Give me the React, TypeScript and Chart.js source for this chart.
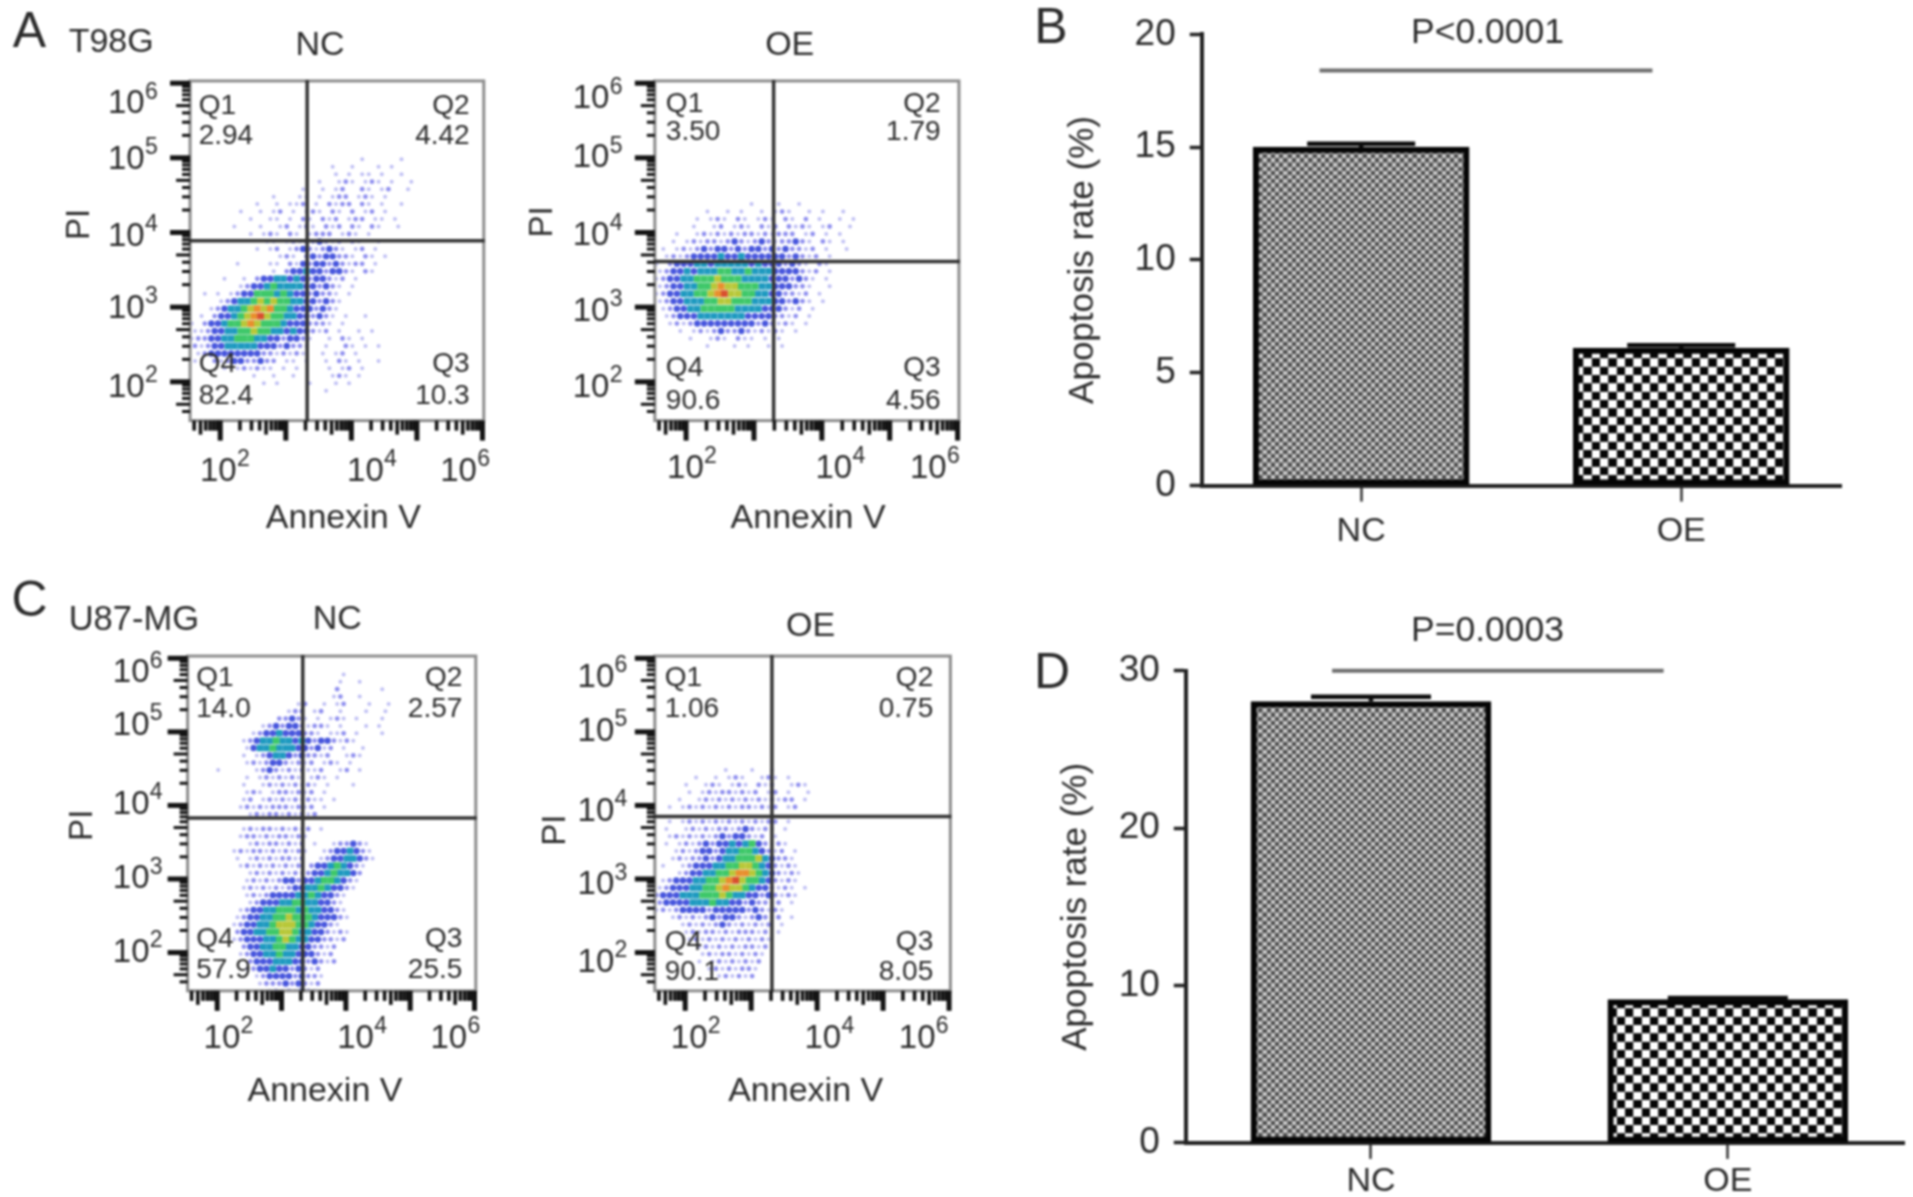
import React, { useEffect, useRef } from "react";
import { Chart, registerables } from "chart.js";

Chart.register(...registerables);

const S = 1913 / 1560;
const FONT = '"Liberation Sans", Arial, sans-serif';
const INK = "#2b2b2b";

// ---- bar data ----
const barCategories = ["NC", "OE"];
const t98gRates = [15.0, 6.1];
const t98gErrors = [0.15, 0.12];
const u87Rates = [28.05, 9.1];
const u87Errors = [0.3, 0.1];
const t98gTicks = [0, 5, 10, 15, 20];
const u87Ticks = [0, 10, 20, 30];

// ---- flow quadrant percentages: Q1, Q2, Q3, Q4 ----
const quadrantNames = ["Q1", "Q2", "Q3", "Q4"];
const t98gNcQuadrants = ["2.94", "4.42", "10.3", "82.4"];
const t98gOeQuadrants = ["3.50", "1.79", "4.56", "90.6"];
const u87NcQuadrants = ["14.0", "2.57", "25.5", "57.9"];
const u87OeQuadrants = ["1.06", "0.75", "8.05", "90.1"];

// gate positions in decades [Annexin V, PI]
const t98gNcGate = [3.326, 3.89];
const t98gOeGate = [3.29, 3.61];
const u87NcGate = [3.33, 3.83];
const u87OeGate = [3.315, 3.85];

// density cells, one char per 0.1 x 0.1 decade cell
// . pale  : light blue  b blue  t teal  g green  y yellow  o orange  r red
const t98gNcRows = [
  "                          .     .   ",
  "                     .  .   . .     ",
  "                      . . .. .  .   ",
  "                   .  .:. .:. .  .  ",
  "                 .  . .:  :. .:  .  ",
  "            .   .. . .:: .:. .      ",
  "          .  . ..: . :.:: :. .  .   ",
  "       .  . .: . .:. :. : .: .      ",
  "         .  .. . :. :.: .:: .. .    ",
  "      .   .  .: .:. :.: :. :.  .    ",
  "         . .:. :. .::: .:. .        ",
  "           .. .:.::b:.: :.  .       ",
  "          . .: .:b:.:b:. .: .       ",
  "             .:. :b:bb::. :. .      ",
  "       .    .. :.b:bb:b:.:: .       ",
  "            . :bbtbb:bb:. :.        ",
  "     .  . :bbttbtb:bb:.: .          ",
  "       .:bbtgttttbb:b:. .           ",
  "  . . .:bbgggtgtbb:b::. .           ",
  "    .:bttgygyggttbb:b:.             ",
  "   .:bttgyoyoggtbbb:b:.             ",
  " . :bbtgyoryggttbb:b:. .  .         ",
  ". :bbtggyoygggtbbb:::. .            ",
  "..:bbttggyggttbtbb:.: .  . .        ",
  ".::bbttgggttbb:bb:.  . :. .         ",
  ":.:bbtttttbbb:b::.  .  :. . .       ",
  " .:bbbbbbbb::.:.:.  . .: .          ",
  ".  :.:bb::b:: .. .  . :. .  .       ",
  "     . .:.:.. . .    . .: .         ",
  "         .  .  .     .:. .          ",
  "           . .    .   . .            ",
  "                    .               ",
];
const t98gOeRows = [
  "              .   .  .           ",
  "       .  . .  . .:.  . .  .     ",
  "      . .:. :. .:. :. : .  . .   ",
  "     .  .: .:. :.: :.:. .:  .    ",
  "   .  .:.:.:.::.:.::: .: . .     ",
  "  . .:.::.:b:.:b:.::b:. :. .     ",
  " . .:.:b:bb:b:bb:b:b::.: .  .    ",
  " .:.:bbbbtbbtbbbbbb:b:.: .       ",
  ". :bbbttbtttttbtbbb:b:. :.       ",
  ".:bbtbtttggttgtttbbbb:.: .       ",
  ".:bbttgggygggttttbbb:b:. .       ",
  ".:bbttggyoyygggttbbb::.  .       ",
  ".:bbttggyoryyggttbb::.: .        ",
  ".:bbtttggyygggtttbb:b:. .        ",
  " .:bbttgggggttttbbb:.: .         ",
  " .:bbbtttttttbbbb::.: .          ",
  "  .:.:bbbbbbbbb:b:.:. .          ",
  "   . .:.:b::b:.:.:. .            ",
  "     .  .:. :.. . .              ",
  "       .   . .  . .               ",
];
const u87NcRows = [
  "                        .           ",
  "                       .  .         ",
  "                       :      .     ",
  "                      .:  .         ",
  "                 .:  . .:   .  .    ",
  "               .:: .:  .   .  .     ",
  "              ::b:. . .:. .   .     ",
  "           .:b:bb:.::. .   . .      ",
  "          .:bbtbbb::. ..: .   .     ",
  "        .:bttgttbtb:bb:.:.          ",
  "         .bttgtttbb:b.: .  .        ",
  "        . .:bttb:b::.:  .:.         ",
  "         .:.:bb:.:.: .:. .          ",
  "    .     .:b:.:.:..:  .: .         ",
  "         . .:.:.:. .:. .            ",
  "        .  .:.:.:.:. .   .          ",
  "         .:. .::.:.: .              ",
  "        .: .:.:.:.:.. .             ",
  "        .:.:.:::.:.: .              ",
  "         .:.::.:.:.:                ",
  "                                    ",
  "        .:.::.:.:.: .               ",
  "        .::.:.::.:.                 ",
  "         .:.::.:.: .  .::b:.        ",
  "       .:.::.:.:.:.  .:bbtb:.       ",
  "       . .:.:.::.:  .:bbttb:.       ",
  "        .:.:.:.:.: :bbtgtb:.        ",
  "         .:.:.:.:.:bbtgttb:         ",
  "         .:.:.:bb:bbtggtb:.         ",
  "        .:.:.:.:bbttgtbb:.          ",
  "         .:.:bbbbttgtbb:.           ",
  "         .:bbbttggttbb:.            ",
  "        .:bbttgggtgttbb:.           ",
  "       .:bbttggygggtbbb:.           ",
  "       .:bbttgyyyggtbb:.            ",
  "       :bbttggyygttbb:.:.           ",
  "       .:bbbttgygttbb::.:           ",
  "        :bbttggttbb::.:             ",
  "        .:bbttgttbbb:.:             ",
  "         :bbbtttbb:b:.:             ",
  "         .:bbtbb:b:.:               ",
  "          .:bbbb:b::.               ",
  "           .:::b:b:.:               ",
  "            .:.:.b:.                ",
];
const t98gFirstRow = 10;
const t98gOeFirstRow = 16;
const u87NcFirstRow = 2;
const u87OeFirstRow = 15;
const u87OeRows = [
  "          .   .  .              ",
  "      .  . .:.  .:. .           ",
  "    .  .:. .:. :.:  .:.         ",
  "     . .:.::.:.: .: .  .        ",
  "   .  .:.:.:.:.:.:.:: .         ",
  "  . .:.:.:.:.::.:.: .:          ",
  "                                ",
  "  . .:.:.:.:.:.:.:: .           ",
  " .  .:.:.::.:b:.:. .            ",
  "  .:.:.:.:b:bb:.: .             ",
  " . .:.:b:bbtbtgb:.:.            ",
  "   .:.:bb:bttggtb:.: .          ",
  "  .:.::b:bttgggytb::.           ",
  " .  .:bbbttggyygtb:.:.          ",
  "   .:bbttggyooygtb:.:.          ",
  " .:bbbttggyoryggtb:.:.          ",
  ".:bbbttggyoyygtbb:.:. .         ",
  ":bbbtttgggygttbb:b:.:.          ",
  ":bbbbtttgttbb:b::.: .           ",
  ".:.:bbbb:bbbbb:b:.:.            ",
  "  .:.:.:b:bb:.:b:.: .           ",
  "    .:.:.:b:.:.:.: .            ",
  "    .:.::.:.:::.: .             ",
  "     .:.:.:.:.:.:.              ",
  "      .:.:.:.::.:               ",
  "       .:.::.:.:.               ",
  "      . .:.:.:.:                ",
  "        .:.:.::.                ",
  "         .:.:.:                 ",
];

const levelChars = ["r", "o", "y", "g", "t", "b", ":", "."];
const levelColors = ["#d8502e", "#e8902e", "#b8c83a", "#3fc86a", "#1f9ac0", "rgba(47,63,216,0.88)", "rgba(95,95,232,0.7)", "rgba(170,170,240,0.75)"];
const levelRadius = [4.8, 4.8, 4.8, 4.8, 4.6, 3.2, 2.4, 2.0];
const levelStyles = ["rect", "rect", "rect", "rect", "rect", "circle", "circle", "circle"];

const xDecMin = 1.54;
const xDecMax = 6.02;
const yDecMin = 1.48;
const yDecMax = 6.03;
const decades = [2, 3, 4, 5, 6];

function densityDatasets(rows: string[], firstRow: number) {
  return levelChars.map((ch, i) => {
    const data: { x: number; y: number }[] = [];
    rows.forEach((row, r) => {
      const stagger = (firstRow + r) % 2 ? 0.05 : 0;
      for (let c = 0; c < row.length; c++) {
        if (row[c] === ch) {
          data.push({
            x: Math.pow(10, xDecMin + (c + 0.25 + stagger * 10) * 0.1),
            y: Math.pow(10, yDecMax - (firstRow + r + 0.5) * 0.1),
          });
        }
      }
    });
    return {
      data,
      backgroundColor: levelColors[i],
      borderWidth: 0,
      pointStyle: levelStyles[i],
      pointRadius: levelRadius[i],
      pointHoverRadius: levelRadius[i],
    };
  });
}

type T = [string, number, number, number, string?, number?];

function drawText(ctx: any, list: T[]) {
  list.forEach(([txt, x, y, size, align, rot]) => {
    ctx.save();
    ctx.fillStyle = INK;
    ctx.font = `${size}px ${FONT}`;
    ctx.textAlign = align || "left";
    ctx.textBaseline = "middle";
    ctx.translate(x * S, y * S);
    if (rot) ctx.rotate(rot);
    ctx.fillText(txt, 0, 0);
    ctx.restore();
  });
}

function drawPower(ctx: any, exp: string, x: number, y: number) {
  ctx.save();
  ctx.fillStyle = INK;
  ctx.textAlign = "left";
  ctx.textBaseline = "middle";
  ctx.font = `33px ${FONT}`;
  ctx.fillText("10", x * S, y * S);
  ctx.font = `23px ${FONT}`;
  ctx.fillText(exp, x * S + 37, y * S - 12);
  ctx.restore();
}

interface FlowSpec {
  box: number[];
  gate: number[];
  rows: string[];
  firstRow: number;
  quadrants: string[];
  yLabelX: number;
  yLabelYs: number[];
  xLabelXs: number[];
  xLabelY: number;
  xTitle: number[];
  piPos: number[];
  qLeft: number;
  qRight: number;
  qYs: number[];
  texts: T[];
}

const flowSpecs: FlowSpec[] = [
  {
    box: [155, 66, 394.5, 343],
    gate: t98gNcGate,
    rows: t98gNcRows,
    firstRow: t98gFirstRow,
    quadrants: t98gNcQuadrants,
    yLabelX: 88,
    yLabelYs: [316, 252, 193, 130, 85],
    xLabelXs: [163, 283, 359],
    xLabelY: 385,
    xTitle: [280, 423],
    piPos: [65, 183],
    qLeft: 162,
    qRight: 383,
    qYs: [87, 111, 297, 323],
    texts: [
      ["A", 24, 27, 50, "center"],
      ["T98G", 56, 35, 34],
      ["NC", 261, 37, 34, "center"],
    ],
  },
  {
    box: [534, 66, 782, 343],
    gate: t98gOeGate,
    rows: t98gOeRows,
    firstRow: t98gOeFirstRow,
    quadrants: t98gOeQuadrants,
    yLabelX: 467,
    yLabelYs: [316, 254, 192, 129, 81],
    xLabelXs: [544, 665, 742],
    xLabelY: 382,
    xTitle: [659, 423],
    piPos: [443, 181],
    qLeft: 543,
    qRight: 767,
    qYs: [85, 108, 300, 327],
    texts: [["OE", 644, 37, 34, "center"]],
  },
  {
    box: [153, 535, 388, 808],
    gate: u87NcGate,
    rows: u87NcRows,
    firstRow: u87NcFirstRow,
    quadrants: u87NcQuadrants,
    yLabelX: 92,
    yLabelYs: [777, 717, 656, 592, 549],
    xLabelXs: [166, 275, 351],
    xLabelY: 847,
    xTitle: [265, 890],
    piPos: [68, 673],
    qLeft: 160,
    qRight: 377,
    qYs: [553, 578, 766, 791],
    texts: [
      ["C", 24, 491, 50, "center"],
      ["U87-MG", 56, 506, 34.5],
      ["NC", 275, 505, 34, "center"],
    ],
  },
  {
    box: [534, 535, 775, 808],
    gate: u87OeGate,
    rows: u87OeRows,
    firstRow: u87OeFirstRow,
    quadrants: u87OeQuadrants,
    yLabelX: 471,
    yLabelYs: [785, 722, 662, 597, 553],
    xLabelXs: [547, 656, 733],
    xLabelY: 847,
    xTitle: [657, 890],
    piPos: [453, 677],
    qLeft: 542,
    qRight: 761,
    qYs: [553, 578, 768, 793],
    texts: [["OE", 661, 511, 34, "center"]],
  },
];

function makeFlow(canvas: HTMLCanvasElement, spec: FlowSpec) {
  const [l, t, r, b] = spec.box.map((v) => v * S);
  const decor = {
    id: "flowDecor",
    afterDatasetsDraw(chart: any) {
      const { ctx, scales } = chart;
      const { x, y } = scales;
      const ca = chart.chartArea;
      ctx.save();
      // frame
      ctx.strokeStyle = "#8c8c8c";
      ctx.lineWidth = 3;
      ctx.strokeRect(ca.left, ca.top, ca.right - ca.left, ca.bottom - ca.top);
      // gates
      ctx.strokeStyle = "#333";
      ctx.lineWidth = 3.5;
      const gx = x.getPixelForValue(Math.pow(10, spec.gate[0]));
      const gy = y.getPixelForValue(Math.pow(10, spec.gate[1]));
      ctx.beginPath();
      ctx.moveTo(gx, ca.top - 1);
      ctx.lineTo(gx, ca.bottom + 1);
      ctx.moveTo(ca.left - 1, gy);
      ctx.lineTo(ca.right + 1, gy);
      ctx.stroke();
      // ticks
      ctx.strokeStyle = "#141414";
      const mant = [1, 2, 3, 4, 5, 6, 7, 8, 9];
      [1, ...decades].forEach((d) => {
        mant.forEach((m) => {
          const v = m * Math.pow(10, d);
          const lg = Math.log10(v);
          if (lg < xDecMin - 0.001 || lg > xDecMax + 0.03) return;
          const px = x.getPixelForValue(v);
          ctx.lineWidth = m === 1 ? 5 : 3.6;
          ctx.beginPath();
          ctx.moveTo(px, ca.bottom);
          ctx.lineTo(px, ca.bottom + (m === 1 ? 20 : m === 5 ? 14 : 10));
          ctx.stroke();
        });
        mant.forEach((m) => {
          const v = m * Math.pow(10, d);
          const lg = Math.log10(v);
          if (lg < yDecMin - 0.001 || lg > yDecMax + 0.03) return;
          const py = y.getPixelForValue(v);
          ctx.lineWidth = m === 1 ? 5 : 3;
          ctx.beginPath();
          ctx.moveTo(ca.left, py);
          ctx.lineTo(ca.left - (m === 1 ? 20 : m === 5 ? 14 : 8), py);
          ctx.stroke();
        });
      });
      ctx.restore();

      // text
      decades.forEach((d, i) => drawPower(ctx, String(d), spec.yLabelX, spec.yLabelYs[i]));
      [2, 4, 6].forEach((d, i) => drawPower(ctx, String(d), spec.xLabelXs[i], spec.xLabelY));
      const [q1, q2, q3, q4] = spec.quadrants;
      const [ya, yb, yc, yd] = spec.qYs;
      const qs = 28;
      drawText(ctx, [
        ...spec.texts,
        ["Annexin V", spec.xTitle[0], spec.xTitle[1], 34, "center"],
        ["PI", spec.piPos[0], spec.piPos[1], 33, "center", -Math.PI / 2],
        [quadrantNames[0], spec.qLeft, ya, qs],
        [q1, spec.qLeft, yb, qs],
        [quadrantNames[1], spec.qRight, ya, qs, "right"],
        [q2, spec.qRight, yb, qs, "right"],
        [quadrantNames[3], spec.qLeft, yc, qs],
        [q4, spec.qLeft, yd, qs],
        [quadrantNames[2], spec.qRight, yc, qs, "right"],
        [q3, spec.qRight, yd, qs, "right"],
      ]);
    },
  };
  return new Chart(canvas, {
    type: "scatter",
    data: { datasets: densityDatasets(spec.rows, spec.firstRow) as any },
    options: {
      animation: false,
      responsive: false,
      devicePixelRatio: 1,
      events: [],
      layout: { padding: { left: l, top: t, right: 1913 - r, bottom: 1197 - b } },
      plugins: { legend: { display: false }, tooltip: { enabled: false } },
      scales: {
        x: { type: "logarithmic", display: false, min: Math.pow(10, xDecMin), max: Math.pow(10, xDecMax) },
        y: { type: "logarithmic", display: false, min: Math.pow(10, yDecMin), max: Math.pow(10, yDecMax) },
      },
    } as any,
    plugins: [decor],
  });
}

function checker(cell: number, a: string, b: string) {
  const n = 16;
  const tile = document.createElement("canvas");
  tile.width = n * 2;
  tile.height = n * 2;
  const g = tile.getContext("2d") as CanvasRenderingContext2D;
  g.fillStyle = a;
  g.fillRect(0, 0, n * 2, n * 2);
  g.fillStyle = b;
  g.fillRect(0, 0, n, n);
  g.fillRect(n, n, n, n);
  const pat = g.createPattern(tile, "repeat") as CanvasPattern;
  pat.setTransform(new DOMMatrix().scale(cell / n));
  return pat;
}

interface BarSpec {
  values: number[];
  errors: number[];
  ticks: number[];
  max: number;
  axisX: number;
  right: number;
  top: number;
  base: number;
  centers: number[];
  barWidth: number;
  yWidth: number;
  titlePad: number;
  xPad: number;
  sigValue: number;
  sigRange: number[];
  pText: string;
  pTextPos: number[];
  letter: T;
}

const barSpecs: BarSpec[] = [
  {
    values: t98gRates,
    errors: t98gErrors,
    ticks: t98gTicks,
    max: 20,
    axisX: 980,
    right: 1502,
    top: 28,
    base: 396,
    centers: [1110, 1371],
    barWidth: 216,
    yWidth: 160,
    titlePad: 21,
    xPad: 10,
    sigValue: 18.4,
    sigRange: [-0.13, 0.91],
    pText: "P<0.0001",
    pTextPos: [1213, 27],
    letter: ["B", 857, 24, 50, "center"],
  },
  {
    values: u87Rates,
    errors: u87Errors,
    ticks: u87Ticks,
    max: 30,
    axisX: 967,
    right: 1553,
    top: 547,
    base: 932,
    centers: [1118, 1409],
    barWidth: 240,
    yWidth: 140,
    titlePad: 10,
    xPad: 2,
    sigValue: 30,
    sigRange: [-0.109, 0.82],
    pText: "P=0.0003",
    pTextPos: [1213, 515],
    letter: ["D", 858, 550, 50, "center"],
  },
];

function makeBar(canvas: HTMLCanvasElement, spec: BarSpec) {
  const left = spec.axisX * S;
  const right = spec.right * S;
  const top = spec.top * S;
  const base = spec.base * S;
  const c0 = spec.centers[0] * S;
  const unit = (spec.centers[1] - spec.centers[0]) * S;
  const xMin = (left - c0) / unit;
  const xMax = (right - c0) / unit;
  const xHeight = 80;
  const decor = {
    id: "barDecor",
    afterDatasetsDraw(chart: any) {
      const { ctx, scales } = chart;
      const { x, y } = scales;
      ctx.save();
      ctx.strokeStyle = "#0c0c0c";
      spec.values.forEach((v, i) => {
        const px = x.getPixelForValue(i);
        const pTop = y.getPixelForValue(v + spec.errors[i]);
        const pVal = y.getPixelForValue(v);
        ctx.lineWidth = 4.5;
        ctx.beginPath();
        ctx.moveTo(px - spec.barWidth / 4, pTop);
        ctx.lineTo(px + spec.barWidth / 4, pTop);
        ctx.moveTo(px, pTop);
        ctx.lineTo(px, pVal);
        ctx.stroke();
      });
      ctx.strokeStyle = "#6e6e6e";
      ctx.lineWidth = 4;
      ctx.beginPath();
      const sy = y.getPixelForValue(spec.sigValue);
      ctx.moveTo(x.getPixelForValue(spec.sigRange[0]), sy);
      ctx.lineTo(x.getPixelForValue(spec.sigRange[1]), sy);
      ctx.stroke();
      ctx.restore();
      drawText(ctx, [
        spec.letter,
        [spec.pText, spec.pTextPos[0], spec.pTextPos[1], 35.5, "center"],
      ]);
    },
  };
  const patterns = [checker(100 / 24, "#c9c9c9", "#4e4e4e"), checker(25 / 3, "#ffffff", "#060606")];
  return new Chart(canvas, {
    type: "bar",
    data: {
      datasets: [
        {
          data: spec.values.map((v, i) => ({ x: i, y: v })),
          backgroundColor: patterns,
          borderColor: "#050505",
          borderWidth: 6,
          borderSkipped: false,
          barThickness: spec.barWidth,
        },
      ],
    } as any,
    options: {
      animation: false,
      responsive: false,
      devicePixelRatio: 1,
      events: [],
      layout: {
        padding: { left: left - spec.yWidth, top, right: 1913 - right, bottom: 1197 - base - xHeight },
      },
      plugins: { legend: { display: false }, tooltip: { enabled: false } },
      scales: {
        x: {
          type: "linear",
          offset: false,
          min: xMin,
          max: xMax,
          afterBuildTicks(axis: any) {
            axis.ticks = barCategories.map((_, i) => ({ value: i }));
          },
          afterFit(axis: any) {
            axis.height = xHeight;
            axis.paddingLeft = 0;
            axis.paddingRight = 0;
          },
          border: { color: "#222", width: 4 },
          grid: { offset: false, drawOnChartArea: false, tickLength: 16, tickWidth: 2.5, tickColor: "#333" },
          ticks: {
            autoSkip: false,
            maxRotation: 0,
            padding: spec.xPad,
            color: INK,
            font: { family: FONT, size: 34 },
            callback: (v: any) => barCategories[v],
          },
        },
        y: {
          min: 0,
          max: spec.max,
          afterBuildTicks(axis: any) {
            axis.ticks = spec.ticks.map((value) => ({ value }));
          },
          afterFit(axis: any) {
            axis.width = spec.yWidth;
            axis.paddingTop = 0;
            axis.paddingBottom = 0;
          },
          border: { color: "#222", width: 4 },
          grid: { drawOnChartArea: false, tickLength: 12, tickWidth: 3.5, tickColor: "#222" },
          ticks: { padding: 14, color: INK, font: { family: FONT, size: 37 } },
          title: {
            display: true,
            text: "Apoptosis rate (%)",
            color: INK,
            font: { family: FONT, size: 35 },
            padding: { top: spec.titlePad, bottom: 0 },
          },
        },
      },
    } as any,
    plugins: [decor],
  });
}

export default function App() {
  const flowRefs = useRef<(HTMLCanvasElement | null)[]>([]);
  const barRefs = useRef<(HTMLCanvasElement | null)[]>([]);
  useEffect(() => {
    const charts = [
      ...flowSpecs.map((s, i) => makeFlow(flowRefs.current[i] as HTMLCanvasElement, s)),
      ...barSpecs.map((s, i) => makeBar(barRefs.current[i] as HTMLCanvasElement, s)),
    ];
    return () => charts.forEach((c) => c.destroy());
  }, []);
  const style: React.CSSProperties = { position: "absolute", left: 0, top: 0, filter: "blur(1px)" };
  return (
    <div style={{ position: "fixed", left: 0, top: 0, width: 1913, height: 1197, background: "#fff", overflow: "hidden" }}>
      {flowSpecs.map((_, i) => (
        <canvas key={"f" + i} ref={(el) => { flowRefs.current[i] = el; }} width={1913} height={1197} style={style} />
      ))}
      {barSpecs.map((_, i) => (
        <canvas key={"b" + i} ref={(el) => { barRefs.current[i] = el; }} width={1913} height={1197} style={style} />
      ))}
    </div>
  );
}
